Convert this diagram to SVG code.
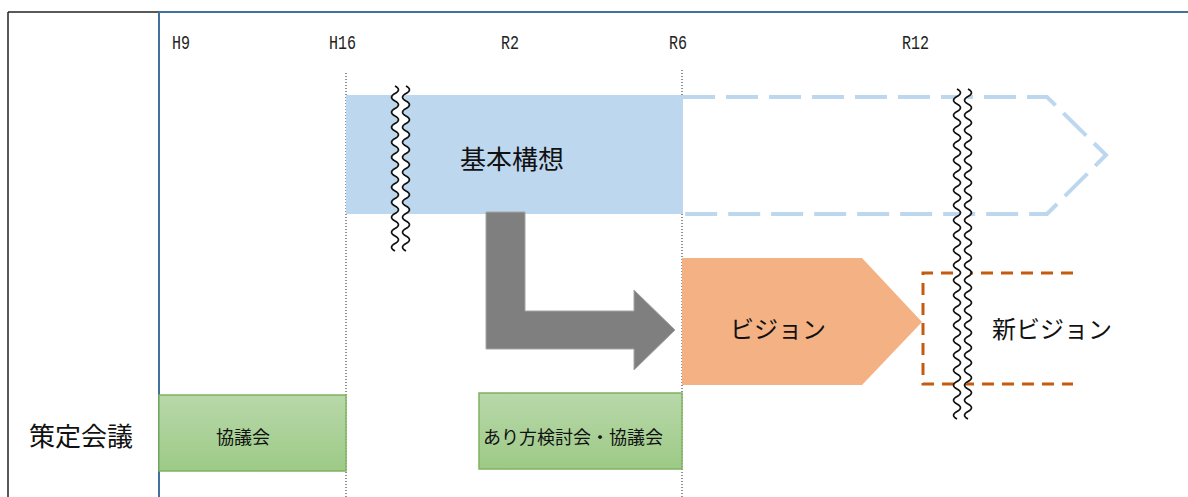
<svg xmlns="http://www.w3.org/2000/svg" width="1188" height="497" viewBox="0 0 1188 497">
<style>
.yr{font-family:"Liberation Mono",monospace;font-size:20px;fill:#222}
.jp{font-family:"Noto Sans CJK JP","Noto Sans",sans-serif;fill:#111;text-anchor:middle}
.dot{stroke:#222;stroke-width:1;stroke-dasharray:1 2;fill:none}
.wv{fill:none;stroke:#111;stroke-width:1.6}
.wvw{fill:none;stroke:#fff;stroke-width:8}
.grn{fill:url(#g);stroke:#7FB35F;stroke-width:1.5}
</style>
<defs>
<linearGradient id="g" x1="0" y1="0" x2="0" y2="1">
<stop offset="0" stop-color="#B8D8AA"/>
<stop offset="1" stop-color="#9DCA86"/>
</linearGradient>
<path id="w1" d="M0 0 q7 3.75 0 7.5 t0 7.5 t0 7.5 t0 7.5 t0 7.5 t0 7.5 t0 7.5 t0 7.5 t0 7.5 t0 7.5 t0 7.5 t0 7.5 t0 7.5 t0 7.5 t0 7.5 t0 7.5 t0 7.5 t0 7.5 t0 7.5 t0 7.5 t0 7.5 t0 7.5"/>
<path id="w2" d="M0 0 q7 3.75 0 7.5 t0 7.5 t0 7.5 t0 7.5 t0 7.5 t0 7.5 t0 7.5 t0 7.5 t0 7.5 t0 7.5 t0 7.5 t0 7.5 t0 7.5 t0 7.5 t0 7.5 t0 7.5 t0 7.5 t0 7.5 t0 7.5 t0 7.5 t0 7.5 t0 7.5 t0 7.5 t0 7.5 t0 7.5 t0 7.5 t0 7.5 t0 7.5 t0 7.5 t0 7.5 t0 7.5 t0 7.5 t0 7.5 t0 7.5 t0 7.5 t0 7.5 t0 7.5 t0 7.5 t0 7.5 t0 7.5 t0 7.5 t0 7.5 t0 7.5 t0 7.5"/>
</defs>
<rect width="1188" height="497" fill="#fff"/>
<g id="frame">
<line x1="8" y1="12" x2="159" y2="12" stroke="#222" stroke-width="1.5"/>
<line x1="159" y1="12" x2="1188" y2="12" stroke="#41719C" stroke-width="2"/>
<line x1="8" y1="12" x2="8" y2="497" stroke="#222" stroke-width="1.5"/>
<line x1="159" y1="12" x2="159" y2="497" stroke="#41719C" stroke-width="2"/>
<line class="dot" x1="346" y1="73" x2="346" y2="497"/>
<line class="dot" x1="682" y1="70" x2="682" y2="497"/>
</g>
<g id="years">
<text class="yr" transform="translate(172,49) scale(0.75,1)">H9</text>
<text class="yr" transform="translate(329,49) scale(0.75,1)">H16</text>
<text class="yr" transform="translate(501,49) scale(0.75,1)">R2</text>
<text class="yr" transform="translate(669,49) scale(0.75,1)">R6</text>
<text class="yr" transform="translate(902,49) scale(0.75,1)">R12</text>
</g>
<g id="kihon">
<rect x="346" y="95" width="337" height="119" fill="#BDD7EE"/>
<text class="jp" x="512" y="169" font-size="26">基本構想</text>
</g>
<g id="kihon-future">
<path d="M683 97 L1047 97 L1106 155 L1047 214 L683 214" fill="none" stroke="#BDD7EE" stroke-width="4" stroke-dasharray="32 11"/>
</g>
<g id="connectors">
<polygon points="486,212 525,212 525,311 634,311 634,290 675,330 634,370 634,349 486,349" fill="#7F7F7F" stroke="#A5A5A5" stroke-width="1"/>
</g>
<g id="vision">
<polygon points="682,258 862,258 922,322 862,385 682,385" fill="#F4B183"/>
<text class="jp" x="778" y="338" font-size="24">ビジョン</text>
</g>
<g id="new-vision">
<path d="M1073 273 L923 273 L923 384 L1073 384" fill="none" stroke="#C55A11" stroke-width="3" stroke-dasharray="12 8"/>
<text class="jp" x="1052" y="338" font-size="24">新ビジョン</text>
</g>
<g id="break1">
<use href="#w1" x="400.5" y="86" class="wvw"/>
<use href="#w1" x="395" y="86" class="wv"/>
<use href="#w1" x="406" y="86" class="wv"/>
</g>
<g id="break2">
<use href="#w2" x="962.5" y="89" class="wvw"/>
<use href="#w2" x="957" y="89" class="wv"/>
<use href="#w2" x="968" y="89" class="wv"/>
</g>
<g id="label-sakutei">
<text class="jp" x="81" y="446" font-size="26">策定会議</text>
</g>
<g id="kyogikai1">
<rect class="grn" x="159" y="395" width="187" height="76"/>
<text class="jp" x="243" y="444" font-size="18">協議会</text>
</g>
<g id="kyogikai2">
<rect class="grn" x="479" y="393" width="203" height="76"/>
<text class="jp" x="573" y="444" font-size="18">あり方検討会・協議会</text>
</g>
</svg>
